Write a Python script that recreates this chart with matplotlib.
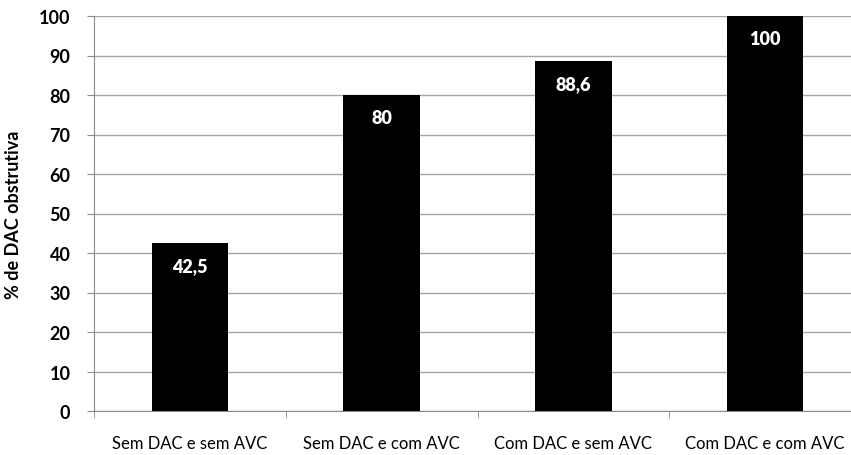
import matplotlib
matplotlib.use("Agg")
import matplotlib.pyplot as plt
import numpy as np

categories = ["Sem DAC e sem AVC", "Sem DAC e com AVC", "Com DAC e sem AVC", "Com DAC e com AVC"]
values = [42.5, 80, 88.6, 100]
value_labels = ["42,5", "80", "88,6", "100"]
y_ticks = [0, 10, 20, 30, 40, 50, 60, 70, 80, 90, 100]

plt.rcParams['font.family'] = ['Lato', 'DejaVu Sans']

fig = plt.figure(figsize=(8.51, 4.56), dpi=100)
left = 94 / 851
width = 767 / 851
bottom = 1 - 412 / 456
top = 1 - 17 / 456
ax = fig.add_axes([left, bottom, width, top - bottom])

x = np.arange(len(categories))
ax.bar(x, values, width=0.4, color="black", zorder=3)

for xi, v, lab in zip(x, values, value_labels):
    ax.text(xi, v - 5.8, lab, ha="center", va="center", color="white",
            fontsize=13, fontweight="heavy", zorder=4)

ax.set_xlim(-0.5, len(categories) - 0.5)
ax.set_ylim(0, 100)
ax.set_yticks(y_ticks)
ax.set_yticklabels([str(t) for t in y_ticks], fontsize=13, fontweight="bold")
ax.yaxis.grid(True, color="#a6a6a6", linewidth=1, zorder=0)

ax.set_xticks(x)
ax.set_xticklabels(categories, fontsize=12)
ax.set_xticks(np.arange(len(categories) + 1) - 0.5, minor=True)
ax.tick_params(axis="x", which="major", length=0, pad=17)
ax.tick_params(axis="x", which="minor", length=5, color="#8c8c8c", direction="out")
ax.tick_params(axis="y", length=5, color="#8c8c8c", direction="out", pad=12)

for side in ["top", "right"]:
    ax.spines[side].set_visible(False)
for side in ["left", "bottom"]:
    ax.spines[side].set_color("#8c8c8c")

ax.set_ylabel("% de DAC obstrutiva", fontsize=13, fontweight="bold", labelpad=12)

fig.savefig("out.png", dpi=100, facecolor="white")
